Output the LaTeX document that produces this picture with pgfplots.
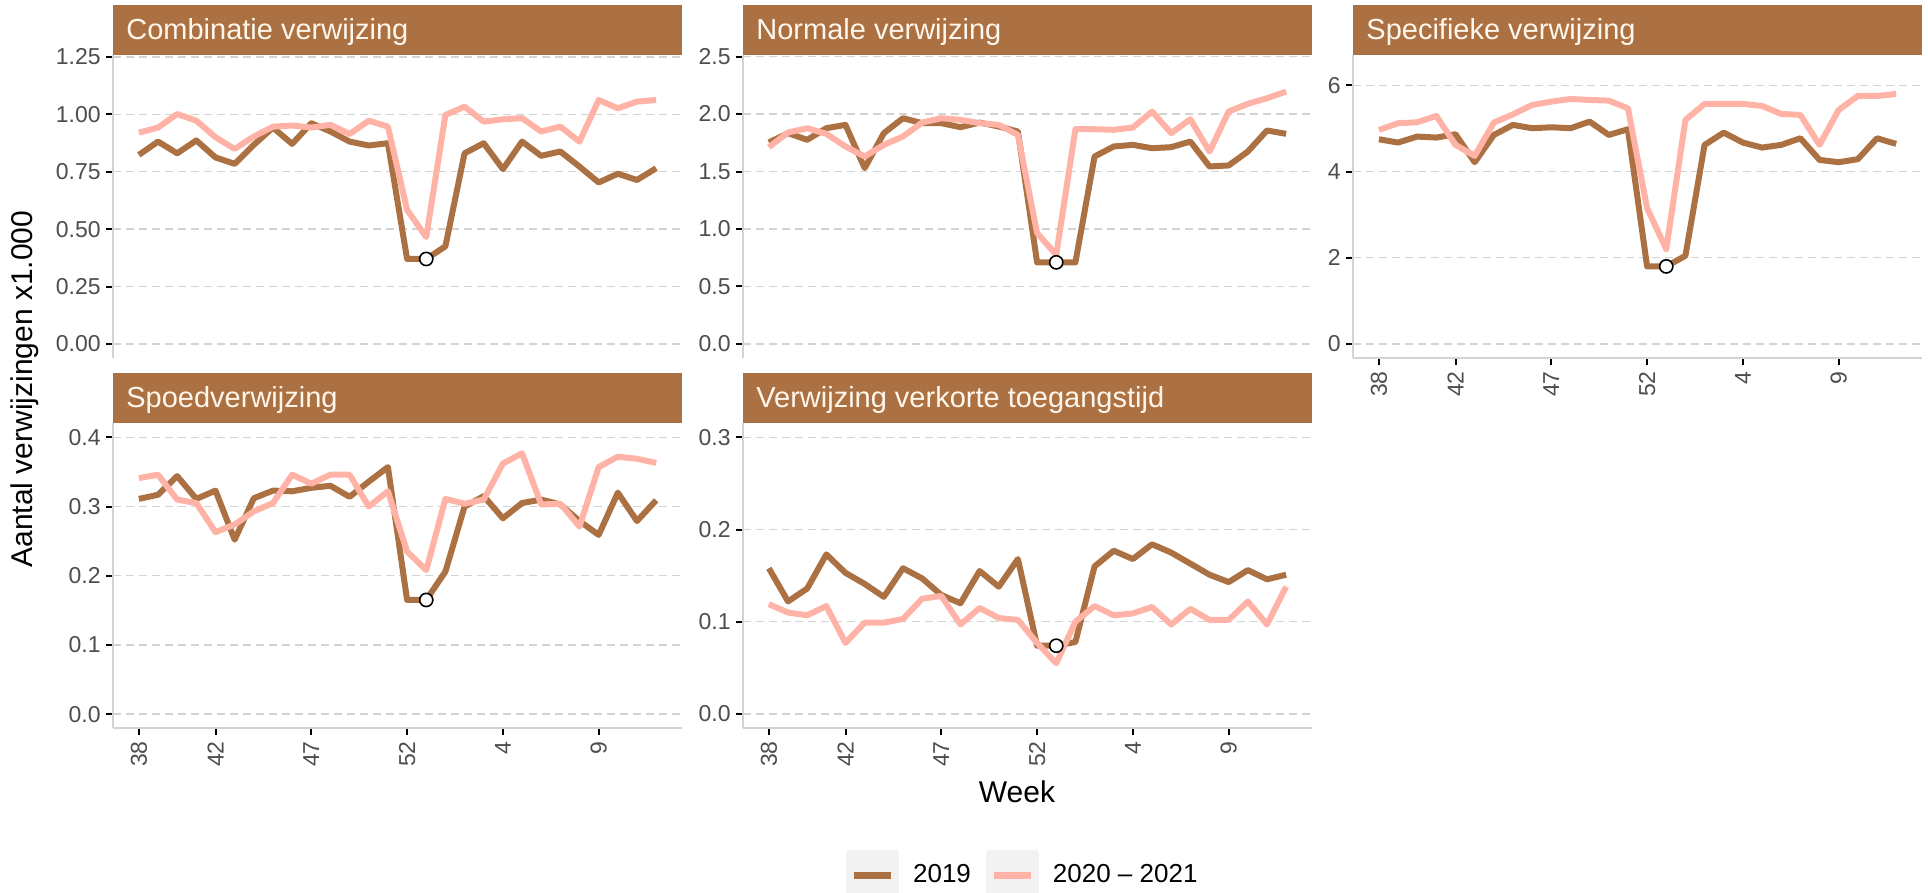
\documentclass[border=0pt]{standalone}
\usepackage{fontspec}
\setmainfont{Liberation Sans}
\usepackage{pgfplots}
\usepackage{pgfplotstable}
\pgfplotsset{compat=1.18}
\definecolor{cbrown}{HTML}{AB7143}
\definecolor{cpink}{HTML}{FFB3A6}
\definecolor{cgrid}{HTML}{D3D3D3}
\definecolor{caxis}{HTML}{D3D3D3}
\definecolor{ctick}{HTML}{4D4D4D}
\definecolor{ckey}{HTML}{F2F2F2}
\definecolor{cstriptext}{HTML}{FFF6EC}

% columns: i = week index (0 = week 38, 15 = week 53, 16 = week 1), b = 2019, p = 2020-2021
\pgfplotstableread{
i b p
0 0.823 0.920
1 0.881 0.942
2 0.830 1.001
3 0.886 0.972
4 0.812 0.900
5 0.784 0.849
6 0.867 0.903
7 0.942 0.946
8 0.871 0.951
9 0.961 0.942
10 0.925 0.954
11 0.881 0.914
12 0.864 0.972
13 0.874 0.946
14 0.370 0.584
15 0.370 0.465
16 0.425 0.997
17 0.830 1.033
18 0.874 0.968
19 0.761 0.978
20 0.881 0.983
21 0.819 0.925
22 0.838 0.946
23 0.772 0.881
24 0.703 1.062
25 0.741 1.026
26 0.714 1.055
27 0.765 1.062
}\tabA
\pgfplotstableread{
i b p
0 1.753 1.712
1 1.834 1.840
2 1.776 1.877
3 1.877 1.828
4 1.906 1.718
5 1.530 1.631
6 1.834 1.732
7 1.964 1.805
8 1.921 1.926
9 1.921 1.964
10 1.886 1.950
11 1.926 1.921
12 1.892 1.906
13 1.848 1.819
14 0.710 0.965
15 0.710 0.776
16 0.710 1.868
17 1.631 1.868
18 1.718 1.863
19 1.732 1.883
20 1.703 2.022
21 1.712 1.834
22 1.761 1.955
23 1.544 1.674
24 1.553 2.022
25 1.674 2.089
26 1.857 2.138
27 1.828 2.196
}\tabB
\pgfplotstableread{
i b p
0 4.749 4.965
1 4.672 5.120
2 4.811 5.143
3 4.788 5.290
4 4.865 4.618
5 4.216 4.363
6 4.849 5.135
7 5.081 5.328
8 5.004 5.544
9 5.027 5.622
10 5.004 5.683
11 5.158 5.660
12 4.849 5.645
13 4.981 5.467
14 1.799 3.151
15 1.800 2.201
16 2.046 5.197
17 4.618 5.568
18 4.903 5.568
19 4.672 5.568
20 4.556 5.521
21 4.618 5.336
22 4.772 5.313
23 4.270 4.618
24 4.216 5.429
25 4.286 5.753
26 4.772 5.753
27 4.641 5.799
}\tabC
\pgfplotstableread{
i b p
0 0.311 0.341
1 0.317 0.346
2 0.344 0.310
3 0.311 0.305
4 0.323 0.263
5 0.252 0.274
6 0.312 0.293
7 0.323 0.305
8 0.322 0.346
9 0.327 0.333
10 0.330 0.346
11 0.314 0.346
12 0.336 0.300
13 0.357 0.322
14 0.165 0.235
15 0.165 0.208
16 0.206 0.311
17 0.300 0.304
18 0.315 0.310
19 0.283 0.362
20 0.305 0.377
21 0.310 0.303
22 0.303 0.304
23 0.279 0.271
24 0.259 0.357
25 0.320 0.372
26 0.279 0.369
27 0.309 0.363
}\tabD
\pgfplotstableread{
i b p
0 0.158 0.119
1 0.122 0.110
2 0.136 0.107
3 0.173 0.117
4 0.153 0.077
5 0.141 0.099
6 0.127 0.099
7 0.158 0.103
8 0.147 0.125
9 0.129 0.128
10 0.120 0.097
11 0.155 0.115
12 0.138 0.104
13 0.168 0.102
14 0.074 0.077
15 0.074 0.055
16 0.078 0.100
17 0.160 0.117
18 0.177 0.107
19 0.168 0.109
20 0.184 0.116
21 0.175 0.097
22 0.163 0.114
23 0.151 0.102
24 0.143 0.102
25 0.156 0.122
26 0.146 0.097
27 0.151 0.138
}\tabE

\pgfplotsset{
  facet/.style={
    scale only axis, width=284.5pt,
    anchor=south west,
    xmin=-1.35, xmax=28.35,
    axis x line*=bottom, axis y line*=left,
    axis line style={caxis, line width=0.8pt},
    tick align=outside,
    major tick length=3.5pt,
    tick style={black, line width=1pt},
    ymajorgrids, xmajorgrids=false,
    major grid style={cgrid, line width=0.7pt, dash pattern=on 4pt off 2.5pt},
    tick label style={font=\fontsize{11.5}{13}\selectfont, text=ctick},
    /pgf/number format/assume math mode=true,
    scaled y ticks=false,
    xtick={0,4,9,14,19,24}, xticklabels={38,42,47,52,4,9},
    xticklabel style={rotate=90, anchor=east, inner sep=0pt, xshift=-3pt},
    yticklabel style={inner sep=0pt, xshift=-2.5pt},
    clip=false,
  },
  nox/.style={xmajorticks=false, x axis line style={draw=none}},
  brownline/.style={cbrown, line width=3pt, line join=round},
  pinkline/.style={cpink, line width=3pt, line join=round},
  lowmark/.style={only marks, mark=*, mark size=3.3pt, mark options={fill=white, draw=black, line width=0.8pt}, forget plot},
}
\newcommand{\strip}[1]{%
  \fill[cbrown] (rel axis cs:0,1) rectangle ([yshift=25pt]rel axis cs:1,1);
  \node[anchor=base west, text=cstriptext, font=\fontsize{14.5}{17}\selectfont, inner sep=0pt] at ([xshift=6.5pt, yshift=7.7pt]rel axis cs:0,1) {#1};
}

\begin{document}
\begin{tikzpicture}
\path[use as bounding box] (0,0) rectangle (964pt,446.5pt);

% Combinatie verwijzing
\begin{axis}[facet, nox, at={(56.5pt,267.5pt)}, height=151.5pt,
  ymin=-0.061, ymax=1.258, ytick={0,0.25,0.5,0.75,1,1.25},
  yticklabel style={/pgf/number format/.cd, fixed, fixed zerofill, precision=2}]
\addplot[brownline] table[x=i, y=b] {\tabA};
\addplot[pinkline] table[x=i, y=p] {\tabA};
\addplot[lowmark] coordinates {(15,0.370)};
\strip{Combinatie verwijzing}
\end{axis}

% Normale verwijzing
\begin{axis}[facet, nox, at={(371.5pt,267.5pt)}, height=151.5pt,
  ymin=-0.122, ymax=2.514, ytick={0,0.5,1,1.5,2,2.5},
  yticklabel style={/pgf/number format/.cd, fixed, fixed zerofill, precision=1}]
\addplot[brownline] table[x=i, y=b] {\tabB};
\addplot[pinkline] table[x=i, y=p] {\tabB};
\addplot[lowmark] coordinates {(15,0.710)};
\strip{Normale verwijzing}
\end{axis}

% Specifieke verwijzing
\begin{axis}[facet, at={(676.5pt,267.5pt)}, height=151.5pt,
  ymin=-0.324, ymax=6.703, ytick={0,2,4,6}]
\addplot[brownline] table[x=i, y=b] {\tabC};
\addplot[pinkline] table[x=i, y=p] {\tabC};
\addplot[lowmark] coordinates {(15,1.800)};
\strip{Specifieke verwijzing}
\end{axis}

% Spoedverwijzing
\begin{axis}[facet, at={(56.5pt,82.5pt)}, height=152.5pt,
  ymin=-0.020, ymax=0.4207, ytick={0,0.1,0.2,0.3,0.4},
  yticklabel style={/pgf/number format/.cd, fixed, fixed zerofill, precision=1}]
\addplot[brownline] table[x=i, y=b] {\tabD};
\addplot[pinkline] table[x=i, y=p] {\tabD};
\addplot[lowmark] coordinates {(15,0.165)};
\strip{Spoedverwijzing}
\end{axis}

% Verwijzing verkorte toegangstijd
\begin{axis}[facet, at={(371.5pt,82.5pt)}, height=152.5pt,
  ymin=-0.0152, ymax=0.3155, ytick={0,0.1,0.2,0.3},
  yticklabel style={/pgf/number format/.cd, fixed, fixed zerofill, precision=1},
  legend columns=2,
  legend style={at={(0.490,-0.482)}, anchor=center, draw=none, fill=none,
    font=\fontsize{13}{15}\selectfont, inner sep=0pt, column sep=0pt,
    nodes={inner sep=0pt, text=black},
    /tikz/every odd column/.append style={column sep=7pt},
    /tikz/every even column/.append style={column sep=7.5pt}},
  legend image code/.code={
    \fill[ckey] (0pt,-11pt) rectangle (23.5pt,11pt);
    \draw[#1, line width=3.5pt, line cap=butt] (2.5pt,0pt) -- (21pt,0pt);
  }]
\addplot[brownline] table[x=i, y=b] {\tabE};
\addlegendentry{2019}
\addplot[pinkline] table[x=i, y=p] {\tabE};
\addlegendentry{2020 -- 2021}
\addplot[lowmark] coordinates {(15,0.074)};
\strip{Verwijzing verkorte toegangstijd}
\end{axis}

\node[font=\fontsize{15}{18}\selectfont, anchor=base] at (508.5pt,45pt) {Week};
\node[font=\fontsize{15}{18}\selectfont, rotate=90, anchor=base] at (16pt,252pt) {Aantal verwijzingen x1.000};
\end{tikzpicture}
\end{document}
